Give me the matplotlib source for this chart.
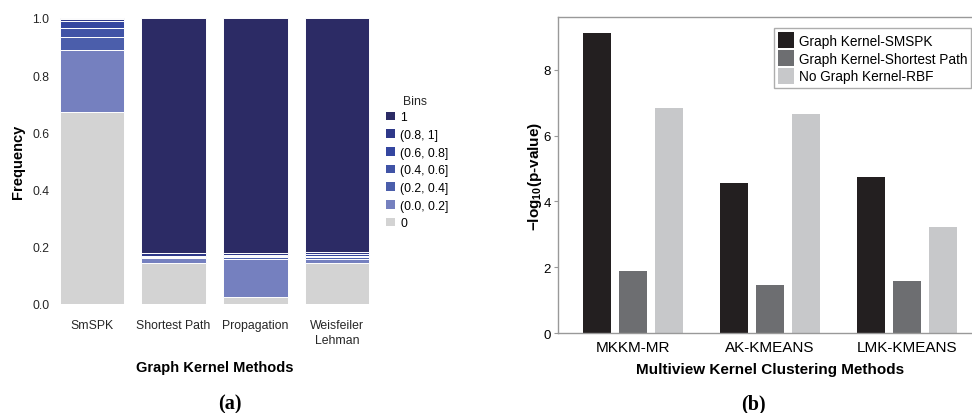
import numpy as np
import matplotlib.pyplot as plt
from matplotlib.patches import Patch

plt.rcParams['font.family'] = ['Liberation Sans', 'DejaVu Sans']
plt.rcParams['mathtext.fontset'] = 'custom'
plt.rcParams['mathtext.rm'] = 'Liberation Sans'
plt.rcParams['mathtext.bf'] = 'Liberation Sans:bold'

# (a) bin frequencies per graph kernel, stacked from bin "0" upwards
methods = ['SmSPK', 'Shortest Path', 'Propagation', 'Weisfeiler\nLehman']
bins = ['0', '(0.0, 0.2]', '(0.2, 0.4]', '(0.4, 0.6]', '(0.6, 0.8]', '(0.8, 1]', '1']
freq = {
    '0':          [0.670, 0.144, 0.023, 0.143],
    '(0.0, 0.2]': [0.219, 0.016, 0.134, 0.014],
    '(0.2, 0.4]': [0.046, 0.003, 0.006, 0.006],
    '(0.4, 0.6]': [0.031, 0.002, 0.004, 0.006],
    '(0.6, 0.8]': [0.022, 0.002, 0.004, 0.006],
    '(0.8, 1]':   [0.009, 0.013, 0.009, 0.006],
    '1':          [0.003, 0.820, 0.820, 0.819],
}
bin_colors = ['#d3d3d3', '#7580bf', '#4b5eab', '#4053a6', '#3446a0', '#2e3889', '#2c2b65']

# (b) -log10(p-value) per clustering method
cluster_methods = ['MKKM-MR', 'AK-KMEANS', 'LMK-KMEANS']
kernels = ['Graph Kernel-SMSPK', 'Graph Kernel-Shortest Path', 'No Graph Kernel-RBF']
logp = [
    [9.12, 4.56, 4.73],
    [1.88, 1.46, 1.58],
    [6.84, 6.66, 3.22],
]
kernel_colors = ['#231f20', '#6d6e71', '#c7c8ca']

fig = plt.figure(figsize=(9.72, 4.14), dpi=100)

# ---- panel (a)
ax1 = fig.add_axes([0.0566, 0.2633, 0.328, 0.691])
x = np.arange(len(methods))
bottom = np.zeros(len(methods))
for b, c in zip(bins, bin_colors):
    vals = np.array(freq[b])
    ax1.bar(x, vals, bottom=bottom, width=0.79, color=c, edgecolor='white', linewidth=0.7)
    bottom += vals
ax1.set_xlim(-0.45, 3.45)
ax1.set_ylim(0, 1.0)
ax1.set_yticks([0.0, 0.2, 0.4, 0.6, 0.8, 1.0])
ax1.set_yticklabels(['0.0', '0.2', '0.4', '0.6', '0.8', '1.0'])
ax1.set_xticks(x)
ax1.set_xticklabels(methods, linespacing=1.35)
for s in ax1.spines.values():
    s.set_visible(False)
ax1.tick_params(axis='y', length=0, pad=4, labelsize=8.8, labelcolor='#262626')
ax1.tick_params(axis='x', length=0, pad=11, labelsize=8.8, labelcolor='#262626')
ax1.set_ylabel('Frequency', fontsize=10.5, fontweight='bold', labelpad=5)
ax1.set_xlabel('Graph Kernel Methods', fontsize=10.5, fontweight='bold', labelpad=10)

handles = [Patch(facecolor=c, edgecolor='none') for c in bin_colors][::-1]
leg1 = fig.legend(handles, bins[::-1], loc='upper left',
                  bbox_to_anchor=(0.397, 0.729), frameon=False, fontsize=8.7,
                  handlelength=0.75, handleheight=0.75, borderpad=0,
                  handletextpad=0.45, labelspacing=0.47, borderaxespad=0)
fig.text(0.4146, 0.753, 'Bins', fontsize=8.8, ha='left', va='center', color='#262626')

# ---- panel (b)
ax2 = fig.add_axes([0.574, 0.1932, 0.436, 0.7626])
xg = np.arange(len(cluster_methods))
offsets = [-0.263, 0.0, 0.263]
for i, k in enumerate(kernels):
    ax2.bar(xg + offsets[i], logp[i], width=0.204, color=kernel_colors[i], label=k)
ax2.set_xlim(-0.547, 2.547)
ax2.set_ylim(0, 9.6)
ax2.set_yticks([0, 2, 4, 6, 8])
ax2.set_xticks(xg)
ax2.set_xticklabels(cluster_methods)
for s in ax2.spines.values():
    s.set_color('#999999')
    s.set_linewidth(1.0)
ax2.tick_params(axis='y', length=3, color='#999999', labelsize=9.5, pad=2)
ax2.tick_params(axis='x', length=0, labelsize=11, pad=5)
ax2.set_ylabel(r'$\mathbf{-log_{10}}$(p-value)', fontsize=11, fontweight='bold', labelpad=0)
ax2.set_xlabel('Multiview Kernel Clustering Methods', fontsize=11, fontweight='bold', labelpad=6)
leg2 = ax2.legend(loc='upper left', bbox_to_anchor=(0.509, 0.966), fontsize=9.8,
                  frameon=True, fancybox=False, edgecolor='#999999',
                  handlelength=1.2, handleheight=1.45, handletextpad=0.35,
                  labelspacing=0.12, borderpad=0.3, borderaxespad=0)
leg2.get_frame().set_linewidth(1.0)

fig.text(0.2366, 0.0, '(a)', fontsize=14.5, fontweight='bold', family='Liberation Serif',
         ha='center', va='bottom')
fig.text(0.7747, 0.0, '(b)', fontsize=14.5, fontweight='bold', family='Liberation Serif',
         ha='center', va='bottom')

fig.savefig('out.png', dpi=100)
